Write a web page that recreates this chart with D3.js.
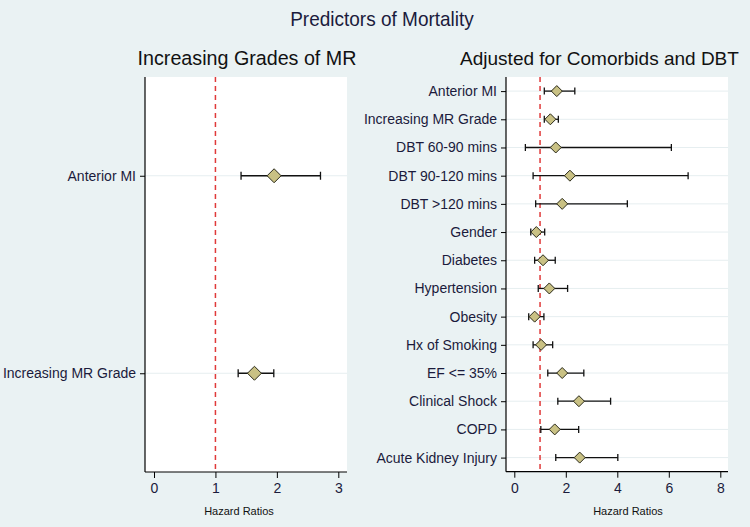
<!DOCTYPE html>
<html>
<head>
<meta charset="utf-8">
<script src="https://cdn.jsdelivr.net/npm/d3@7"></script>
<style>
  html, body { margin: 0; padding: 0; background: #eaf2f3; }
  svg { display: block; font-family: "Liberation Sans", Arial, sans-serif; }
</style>
</head>
<body>
<svg id="chart" width="750" height="527"></svg>
<script>
// ---- data ----
const leftCategories = ["Anterior MI", "Increasing MR Grade"];
const leftHR = [1.955, 1.635];
const leftLow = [1.417, 1.37];
const leftHigh = [2.71, 1.95];
const leftTicks = [0, 1, 2, 3];

const rightCategories = ["Anterior MI", "Increasing MR Grade", "DBT 60-90 mins", "DBT 90-120 mins",
  "DBT >120 mins", "Gender", "Diabetes", "Hypertension", "Obesity", "Hx of Smoking",
  "EF <= 35%", "Clinical Shock", "COPD", "Acute Kidney Injury"];
const rightHR =   [1.65, 1.40, 1.61, 2.16, 1.86, 0.855, 1.115, 1.36, 0.79, 1.04, 1.86, 2.51, 1.57, 2.54];
const rightLow =  [1.165, 1.165, 0.43, 0.73, 0.83, 0.64, 0.79, 0.93, 0.56, 0.73, 1.30, 1.69, 1.03, 1.61];
const rightHigh = [2.35, 1.71, 6.10, 6.75, 4.39, 1.18, 1.59, 2.07, 1.15, 1.49, 2.70, 3.74, 2.50, 4.02];
const rightTicks = [0, 2, 4, 6, 8];

const title = "Predictors of Mortality";
const leftTitle = "Increasing Grades of MR";
const rightTitle = "Adjusted for Comorbids and DBT";
const xLabel = "Hazard Ratios";

// ---- drawing ----
const svg = d3.select("#chart");
const textColor = "#1b1b3c";

svg.append("text").attr("transform", "translate(382,26) scale(1,1.1)").attr("text-anchor", "middle")
  .attr("font-size", 19).attr("fill", textColor).text(title);

function panel(opts) {
  const { left, right, top, bottom, xDomain, ticks, cats, hr, lo, hi, ptitle, titleX, titleSize, diamond, cap } = opts;
  const g = svg.append("g");
  const x = d3.scaleLinear().domain(xDomain).range([opts.x0, opts.x1]);
  const idx = cats.map((d, i) => i + 1);
  const y = d3.scaleLinear().domain([0.5, cats.length + 0.5]).range([top, bottom]);

  g.append("rect").attr("x", left).attr("y", top).attr("width", right - left).attr("height", bottom - top)
    .attr("fill", "#ffffff");

  // gridlines
  g.selectAll(".grid").data(idx).join("line")
    .attr("x1", left).attr("x2", right)
    .attr("y1", d => y(d)).attr("y2", d => y(d))
    .attr("stroke", "#e6eef0").attr("stroke-width", 1);

  // reference line at HR = 1
  g.append("line").attr("x1", x(1)).attr("x2", x(1)).attr("y1", top).attr("y2", bottom)
    .attr("stroke", "#e03a3a").attr("stroke-width", 1.5).attr("stroke-dasharray", "5,4");

  // axes
  const xAxis = d3.axisBottom(x).tickValues(ticks).tickSize(6).tickPadding(5).tickFormat(d3.format("d"));
  const xg = g.append("g").attr("transform", `translate(0,${bottom})`).call(xAxis);
  xg.select(".domain").remove();
  xg.append("line").attr("x1", left).attr("x2", right).attr("y1", 0).attr("y2", 0)
    .attr("stroke", "#000").attr("stroke-width", 1.2);
  xg.selectAll(".tick line").attr("stroke", "#000");
  xg.selectAll(".tick text").attr("font-size", 14).attr("fill", textColor)
    .attr("font-family", "Liberation Sans, Arial, sans-serif");

  const yAxis = d3.axisLeft(y).tickValues(idx).tickSize(5).tickPadding(4).tickFormat(d => cats[d - 1]);
  const yg = g.append("g").attr("transform", `translate(${left},0)`).call(yAxis);
  yg.select(".domain").remove();
  yg.append("line").attr("x1", 0).attr("x2", 0).attr("y1", top).attr("y2", bottom)
    .attr("stroke", "#000").attr("stroke-width", 1.2);
  yg.selectAll(".tick line").attr("stroke", "#000");
  yg.selectAll(".tick text").attr("font-size", 14).attr("fill", textColor)
    .attr("font-family", "Liberation Sans, Arial, sans-serif");

  // CI lines
  g.selectAll(".ci").data(idx).join("line")
    .attr("x1", d => x(lo[d - 1])).attr("x2", d => x(hi[d - 1]))
    .attr("y1", d => y(d)).attr("y2", d => y(d))
    .attr("stroke", "#111").attr("stroke-width", 1.3);
  g.selectAll(".capL").data(idx).join("line")
    .attr("x1", d => x(lo[d - 1])).attr("x2", d => x(lo[d - 1]))
    .attr("y1", d => y(d) - cap).attr("y2", d => y(d) + cap)
    .attr("stroke", "#111").attr("stroke-width", 1.3);
  g.selectAll(".capH").data(idx).join("line")
    .attr("x1", d => x(hi[d - 1])).attr("x2", d => x(hi[d - 1]))
    .attr("y1", d => y(d) - cap).attr("y2", d => y(d) + cap)
    .attr("stroke", "#111").attr("stroke-width", 1.3);

  // diamonds
  g.selectAll(".pt").data(idx).join("path")
    .attr("transform", d => `translate(${x(hr[d - 1])},${y(d)})`)
    .attr("d", `M0,${-diamond}L${diamond},0L0,${diamond}L${-diamond},0Z`)
    .attr("fill", "#c9c184").attr("stroke", "#2a2a1a").attr("stroke-width", 1);

  // titles
  svg.append("text").attr("x", titleX).attr("y", 65).attr("text-anchor", "middle")
    .attr("font-size", titleSize).attr("fill", "#111").text(ptitle);
  svg.append("text").attr("x", opts.labelX).attr("y", 515)
    .attr("text-anchor", "middle").attr("font-size", 11).attr("fill", "#111").text(xLabel);
}

panel({ left: 145, right: 347, top: 77, bottom: 472, x0: 154, x1: 338.3, xDomain: [0, 3], ticks: leftTicks,
  cats: leftCategories, hr: leftHR, lo: leftLow, hi: leftHigh, ptitle: leftTitle, titleX: 247, titleSize: 19.7,
  labelX: 239, diamond: 7, cap: 4 });

panel({ left: 506, right: 728, top: 77, bottom: 471.7, x0: 514.3, x1: 720.3, xDomain: [0, 8], ticks: rightTicks,
  cats: rightCategories, hr: rightHR, lo: rightLow, hi: rightHigh, ptitle: rightTitle, titleX: 599.5, titleSize: 19,
  labelX: 628, diamond: 5.5, cap: 3.5 });
</script>
</body>
</html>
